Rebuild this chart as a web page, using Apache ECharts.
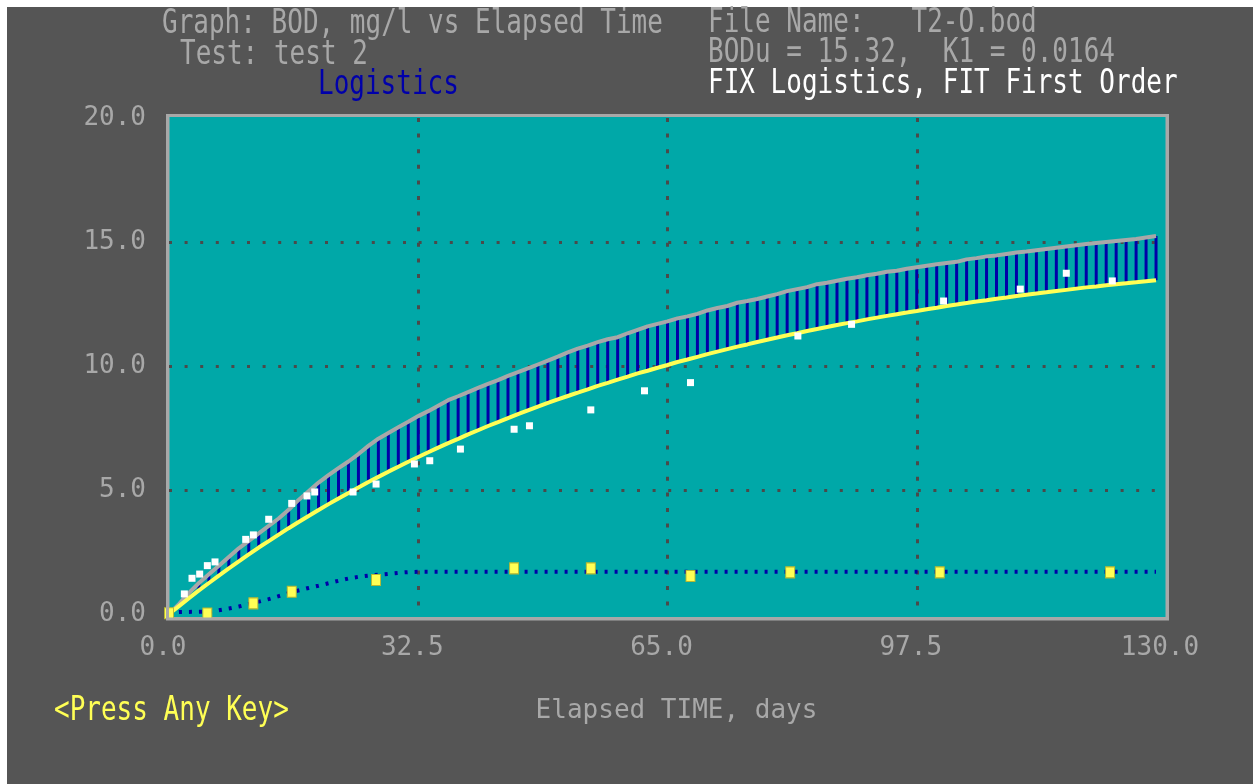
<!DOCTYPE html>
<html><head><meta charset="utf-8">
<script src="https://cdn.jsdelivr.net/npm/echarts@6/dist/echarts.min.js"></script>
<style>
html,body{margin:0;padding:0;background:#ffffff;}
#bg{position:absolute;left:7px;top:7px;width:1246px;height:777px;background:#555555;}
#c{position:absolute;left:0;top:0;width:1253px;height:784px;}
</style>
</head><body><div id="bg"></div><div id="c"></div>
<script>
// Elapsed time (days) at which the model curves are sampled
const days = [
  0,1.3,2.6,3.9,5.2,6.5,7.8,9.1,10.4,11.7,
  13,14.3,15.6,16.9,18.2,19.5,20.8,22.1,23.4,24.7,
  26,27.3,28.6,29.9,31.2,32.5,33.8,35.1,36.4,37.7,
  39,40.3,41.6,42.9,44.2,45.5,46.8,48.1,49.4,50.7,
  52,53.3,54.6,55.9,57.2,58.5,59.8,61.1,62.4,63.7,
  65,66.3,67.6,68.9,70.2,71.5,72.8,74.1,75.4,76.7,
  78,79.3,80.6,81.9,83.2,84.5,85.8,87.1,88.4,89.7,
  91,92.3,93.6,94.9,96.2,97.5,98.8,100.1,101.4,102.7,
  104,105.3,106.6,107.9,109.2,110.5,111.8,113.1,114.4,115.7,
  117,118.3,119.6,120.9,122.2,123.5,124.8,126.1,127.4,128.7
];
// Fixed logistics model (grey curve), BOD mg/l
const logisticsModel = [
  0,0.4,0.85,1.25,1.6,1.95,2.3,2.65,2.95,3.25,
  3.55,3.85,4.2,4.6,4.95,5.3,5.6,5.88,6.15,6.45,
  6.78,7.07,7.3,7.53,7.75,7.98,8.18,8.4,8.62,8.78,
  8.95,9.12,9.28,9.43,9.6,9.75,9.9,10.06,10.22,10.38,
  10.55,10.7,10.82,10.96,11.08,11.16,11.32,11.46,11.6,11.7,
  11.8,11.92,12.0,12.1,12.24,12.34,12.42,12.55,12.62,12.7,
  12.8,12.9,13.02,13.1,13.18,13.3,13.36,13.44,13.52,13.58,
  13.66,13.72,13.8,13.84,13.92,13.98,14.04,14.1,14.15,14.2,
  14.3,14.35,14.42,14.46,14.52,14.58,14.62,14.67,14.72,14.77,
  14.82,14.87,14.92,14.96,15.0,15.04,15.08,15.12,15.18,15.24
];
// Fitted first order curve (yellow), BOD mg/l
const firstOrderFit = [
  0,0.32,0.64,0.95,1.25,1.55,1.84,2.12,2.40,2.68,
  2.94,3.20,3.46,3.71,3.95,4.19,4.43,4.66,4.88,5.10,
  5.32,5.53,5.74,5.94,6.14,6.33,6.52,6.71,6.89,7.06,
  7.24,7.41,7.58,7.74,7.90,8.06,8.21,8.36,8.51,8.65,
  8.79,8.93,9.06,9.20,9.32,9.45,9.57,9.70,9.81,9.93,
  10.04,10.16,10.26,10.37,10.48,10.58,10.68,10.78,10.87,10.97,
  11.06,11.15,11.24,11.32,11.41,11.49,11.57,11.65,11.73,11.80,
  11.88,11.95,12.02,12.09,12.16,12.22,12.29,12.35,12.42,12.48,
  12.54,12.60,12.65,12.71,12.76,12.82,12.87,12.92,12.97,13.02,
  13.07,13.12,13.17,13.21,13.26,13.30,13.34,13.38,13.42,13.46
];
// Observed BOD (white squares)
const obsDays = [2,3,4,5,6,10,11,13,16,18,19,24,27,32,34,38,45,47,55,62,68,82,89,101,111,117,123];
const obsBOD  = [0.81,1.44,1.61,1.95,2.10,3.01,3.19,3.82,4.46,4.76,4.92,4.92,5.24,6.05,6.18,6.65,7.45,7.59,8.23,9.0,9.33,11.21,11.68,12.62,13.1,13.74,13.43];
// Second data set (yellow squares)
const secDays = [0,5,11,16,27,45,55,68,81,100.5,122.7];
const secVals = [0.03,0.02,0.43,0.9,1.37,1.84,1.84,1.53,1.68,1.68,1.68];
// Dotted curve through the second data set
const dotDays = [0,1.3,3.9,5.2,6.5,7.8,9.1,10.4,11.7,13,14.3,15.6,16.9,18.2,19.5,20.8,22.1,23.4,24.7,26,27.3,28.6,29.9,31.2,32.5,128.7];
const dotVals = [0.04,0.08,0.09,0.1,0.15,0.22,0.3,0.4,0.5,0.6,0.72,0.84,0.95,1.05,1.14,1.24,1.34,1.43,1.5,1.55,1.58,1.62,1.66,1.69,1.7,1.7];
// Tick labels
const xTickLabels = ['0.0','32.5','65.0','97.5','130.0'];
const yTickLabels = ['0.0','5.0','10.0','15.0','20.0'];

const FONT = '"DejaVu Sans Mono", "Liberation Mono", monospace';
const GREY = '#a8a8a8';
const TEAL = '#00a8a8';
const YEL = '#ffff55';
const BLUE = '#0000a8';

function txt(text, x, y, color) {
  return {type:'text', x:x, y:y, scaleY:1.28, z:50,
    style:{text:text, fill:color, fontSize:26, fontFamily:FONT, align:'left', verticalAlign:'middle'}};
}

const chart = echarts.init(document.getElementById('c'), null, {renderer:'canvas'});
chart.setOption({
  backgroundColor:'transparent',
  animation:false,
  grid:{left:169, right:87, top:118, bottom:170, containLabel:false, outerBoundsMode:'none'},
  xAxis:{type:'value', min:0, max:130, interval:32.5,
    name:'Elapsed TIME, days', nameLocation:'middle', nameGap:84,
    nameTextStyle:{color:GREY, fontSize:26, fontFamily:FONT, padding:[0,0,0,18], lineHeight:26},
    axisLine:{show:false}, axisTick:{show:false},
    axisLabel:{color:GREY, fontSize:26, fontFamily:FONT, margin:21, lineHeight:26, padding:[0,12,0,0],
      formatter:(v,i)=>xTickLabels[i]},
    splitLine:{show:true, showMinLine:false, showMaxLine:false, lineStyle:{color:'#4a4a4a', width:3, type:[4,11.6]}}},
  yAxis:{type:'value', min:0, max:20, interval:5,
    axisLine:{show:false}, axisTick:{show:false},
    axisLabel:{color:GREY, fontSize:26, fontFamily:FONT, margin:23,
      formatter:(v,i)=>yTickLabels[i]},
    splitLine:{show:true, showMinLine:false, showMaxLine:false, lineStyle:{color:'#4a4a4a', width:3, type:[3,12.6]}}},
  graphic:[
    {type:'rect', z:-10, shape:{x:168, y:115.5, width:999, height:503}, style:{fill:TEAL, stroke:GREY, lineWidth:3}},
    {type:'rect', z:100, shape:{x:167.5, y:115.5, width:1000, height:503.5}, style:{fill:null, stroke:GREY, lineWidth:3}},
    txt('Graph: BOD, mg/l vs Elapsed Time', 162, 24.5, GREY),
    txt('Test: test 2', 180, 55.5, GREY),
    txt('Logistics', 318, 85.5, '#0000aa'),
    txt('File Name:   T2-O.bod', 708, 23.5, GREY),
    txt('BODu = 15.32,  K1 = 0.0164', 708, 53.5, GREY),
    txt('FIX Logistics, FIT First Order', 708, 84.5, '#ffffff'),
    txt('<Press Any Key>', 54, 711, YEL)
  ],
  series:[
    {type:'custom', name:'difference', z:2,
      data:days.map((d,i)=>[d, firstOrderFit[i], logisticsModel[i]]),
      encode:{x:0, y:[1,2]},
      renderItem:(params, api)=>{
        const p1 = api.coord([api.value(0), api.value(1)]);
        const p2 = api.coord([api.value(0), api.value(2)]);
        return {type:'line', shape:{x1:p1[0], y1:p1[1], x2:p2[0], y2:p2[1]},
          style:{stroke:BLUE, lineWidth:3}};
      }},
    {type:'line', name:'Logistics', z:3, data:days.map((d,i)=>[d, logisticsModel[i]]),
      showSymbol:false, lineStyle:{color:GREY, width:4}},
    {type:'line', name:'First Order', z:4, data:days.map((d,i)=>[d, firstOrderFit[i]]),
      showSymbol:false, lineStyle:{color:YEL, width:4}},
    {type:'line', name:'dotted', z:4, data:dotDays.map((d,i)=>[d, dotVals[i]]),
      showSymbol:false, lineStyle:{color:BLUE, width:4, type:[3,7]}},
    {type:'scatter', name:'Observed', z:5, data:obsDays.map((d,i)=>[d, obsBOD[i]]),
      symbol:'rect', symbolSize:7, itemStyle:{color:'#ffffff', opacity:1}},
    {type:'scatter', name:'Second', z:6, data:secDays.map((d,i)=>[d, secVals[i]]),
      symbol:'rect', symbolSize:[9,11], itemStyle:{color:YEL, borderColor:'#b8b830', borderWidth:1, opacity:1}}
  ]
});
</script>
</body></html>
